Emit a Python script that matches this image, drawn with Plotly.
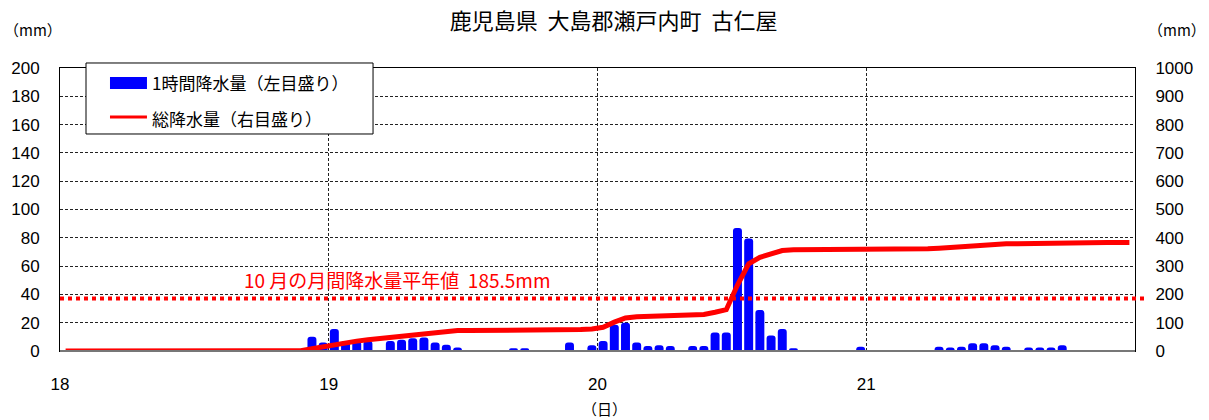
import plotly.graph_objects as go

# ---- data ----
day_ticks = [18, 19, 20, 21]
day_labels = ["18", "19", "20", "21"]
hours = list(range(96))  # hour index from 18th 00:00

hourly = {14: 1, 22: 10, 23: 6, 24: 15.5, 25: 7, 26: 7, 27: 7,
          29: 7, 30: 8, 31: 9, 32: 9.5, 33: 6, 34: 4.5, 35: 2.5,
          40: 2, 41: 2, 45: 6, 47: 4, 48: 7, 49: 18.5, 50: 20, 51: 6,
          52: 3.5, 53: 4, 54: 3.5, 56: 3.5, 57: 3.5, 58: 13, 59: 13,
          60: 87, 61: 79.5, 62: 29, 63: 11, 64: 15.5, 65: 2, 71: 3,
          78: 3, 79: 2.5, 80: 3, 81: 5.5, 82: 5.5, 83: 4, 84: 3,
          86: 2.5, 87: 2.5, 88: 2.5, 89: 4}
hourly_rain = [hourly.get(h, 0) for h in hours]

total_rain = ([0] * 14 + [1] * 8 +
              [8, 15, 24, 30, 35, 40, 44, 49, 54, 60, 64, 68, 70, 72,
               72, 72, 72, 72, 73, 74, 74, 74, 74, 76, 76, 78, 84, 102,
               117, 121, 123, 124, 126, 126, 127, 129, 137, 146, 233, 308,
               331, 343, 355, 358, 358, 358, 358, 358, 358, 360, 361, 361,
               361, 361, 361, 361, 363, 366, 369, 373, 376, 378, 379, 379,
               380, 381, 382, 383, 383, 383, 383, 383, 383, 383])

normal_value = 185.5
normal_label = "10 月の月間降水量平年値  185.5mm"
title_text = "鹿児島県  大島郡瀬戸内町  古仁屋"

x_pos = [18 + (h + 0.5) / 24 for h in hours]

FONT = "Liberation Sans, Noto Sans CJK JP, sans-serif"
JFONT = "Noto Sans CJK JP, Liberation Sans, sans-serif"

fig = go.Figure()
fig.add_trace(go.Bar(x=x_pos, y=hourly_rain, marker_color="#0000ff",
                     marker_line_width=0, width=0.8 / 24,
                     name="1時間降水量（左目盛り）", showlegend=False))
fig.add_trace(go.Scatter(x=x_pos, y=total_rain, yaxis="y2", mode="lines",
                         line=dict(color="#ff0000", width=5),
                         name="総降水量（右目盛り）", showlegend=False))

grid_dash = "3px,2px"
fig.update_layout(
    width=1209, height=420,
    margin=dict(l=60, r=74, t=68, b=69),
    paper_bgcolor="white", plot_bgcolor="white",
    barcornerradius=3,
    font=dict(family=FONT, size=17, color="#000"),
    title=dict(text=title_text, x=0.5075, xref="container", xanchor="center",
               y=1 - 21 / 420, yref="container", yanchor="middle",
               font=dict(family=JFONT, size=22, color="#000")),
    xaxis=dict(range=[18, 22], tickvals=day_ticks, ticktext=day_labels,
               showgrid=True, gridcolor="#222", griddash=grid_dash, gridwidth=1,
               showline=True, linecolor="#000", linewidth=1, mirror=True,
               ticks="", ticklabelstandoff=18, zeroline=False,
               tickfont=dict(size=17)),
    yaxis=dict(range=[0, 200], dtick=20, showgrid=True, gridcolor="#222",
               griddash=grid_dash, gridwidth=1, showline=True, linecolor="#000",
               linewidth=1, ticks="", ticklabelstandoff=16, zeroline=False,
               tickfont=dict(size=17)),
    yaxis2=dict(range=[0, 1000], dtick=100, overlaying="y", side="right",
                showgrid=False, showline=True, linecolor="#000", linewidth=1,
                ticks="", ticklabelstandoff=16, zeroline=False,
                tickfont=dict(size=17)),
)

shapes = [
    # normal-value dotted line
    dict(type="line", xref="paper", yref="y2", x0=0, x1=1.009,
         y0=normal_value, y1=normal_value,
         line=dict(color="#ff0000", width=4, dash="dot"), layer="above"),
    # bottom axis line
    dict(type="line", xref="paper", yref="paper", x0=0, x1=1, y0=0, y1=0,
         line=dict(color="#777", width=2), layer="above"),
    # legend box
    dict(type="rect", xref="paper", yref="paper", x0=0.0242, x1=0.2912,
         y0=0.7668, y1=1.0177, fillcolor="white",
         line=dict(color="#000", width=1), layer="above"),
    dict(type="rect", xref="paper", yref="paper", x0=0.0465, x1=0.0809,
         y0=0.9258, y1=0.9682, fillcolor="#0000ff",
         line=dict(width=0), layer="above"),
    dict(type="line", xref="paper", yref="paper", x0=0.0465, x1=0.0809,
         y0=0.8269, y1=0.8269, line=dict(color="#ff0000", width=3),
         layer="above"),
]
fig.update_layout(shapes=shapes)

annotations = [
    dict(text="1時間降水量（左目盛り）", xref="paper", yref="paper",
         x=0.0837, y=0.947, xanchor="left", yanchor="middle", showarrow=False,
         font=dict(family=JFONT, size=17, color="#000")),
    dict(text="総降水量（右目盛り）", xref="paper", yref="paper",
         x=0.0837, y=0.8233, xanchor="left", yanchor="middle", showarrow=False,
         font=dict(family=JFONT, size=17, color="#000")),
    dict(text=normal_label, xref="paper", yref="paper",
         x=(242 - 60) / 1075, y=(351 - 279) / 283, xanchor="left",
         yanchor="middle", showarrow=False,
         font=dict(family=JFONT, size=19, color="#ff0000")),
    dict(text="（mm）", xref="paper", yref="paper", x=(33 - 60) / 1075,
         y=(351 - 30) / 283, xanchor="center", yanchor="middle",
         showarrow=False, font=dict(family=JFONT, size=15, color="#000")),
    dict(text="（mm）", xref="paper", yref="paper", x=(1177 - 60) / 1075,
         y=(351 - 30) / 283, xanchor="center", yanchor="middle",
         showarrow=False, font=dict(family=JFONT, size=15, color="#000")),
    dict(text="（日）", xref="paper", yref="paper", x=(604 - 60) / 1075,
         y=(351 - 408) / 283, xanchor="center", yanchor="middle",
         showarrow=False, font=dict(family=JFONT, size=15, color="#000")),
]
fig.update_layout(annotations=annotations)

fig.write_html("out.html",
               config={"displayModeBar": False},
               post_script="document.body.style.margin='0';"
                           "document.body.style.overflow='hidden';")
